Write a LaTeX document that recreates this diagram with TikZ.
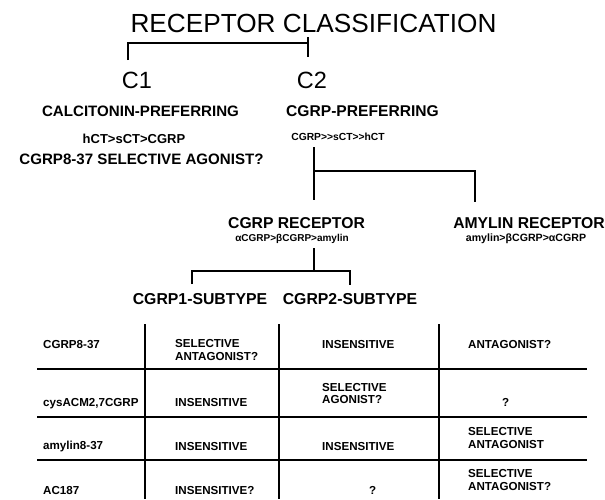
\documentclass[tikz,border=0pt]{standalone}
\usepackage{fontspec}
\setmainfont{Liberation Sans}
\newcommand\fsz[1]{\fontsize{#1}{#1}\selectfont}
\begin{document}
\begin{tikzpicture}[x=1pt,y=-1pt,
  t/.style={inner sep=0pt, anchor=base},
  big/.style={t, font=\fsz{#1}},
  bold/.style={t, font=\bfseries\fsz{#1}},
  cl/.style={inner sep=0pt, anchor=base west, font=\bfseries\fsz{11.6}},
  br/.style={line width=2.2pt},
  gridline/.style={line width=2.5pt}]
\useasboundingbox (0,0) rectangle (605,499);

% headings
\node[big=26.2] (title) at (313.5,32) {RECEPTOR CLASSIFICATION};
\node[big=23.5] (c1) at (137,88) {C1};
\node[big=23.5] (c2) at (312,88) {C2};
\node[bold=15.1] (calc) at (140.5,116) {CALCITONIN-PREFERRING};
\node[bold=15.6] (cgrpp) at (362.5,116) {CGRP-PREFERRING};
\node[bold=13] (hct) at (134,143) {hCT>sCT>CGRP};
\node[bold=15.1] (sel) at (141.5,164.5) {CGRP8-37 SELECTIVE AGONIST?};
\node[bold=10.3] (cgrpord) at (338,140) {CGRP>{}>sCT>{}>hCT};
\node[bold=15.7] (cgrprec) at (296.5,228) {CGRP RECEPTOR};
\node[bold=10] (cgrprecord) at (292,241) {αCGRP>βCGRP>amylin};
\node[bold=15.7] (amyrec) at (529,228) {AMYLIN RECEPTOR};
\node[bold=10.6] (amyrecord) at (526,241) {amylin>βCGRP>αCGRP};
\node[bold=15.8] (sub1) at (200,304) {CGRP1-SUBTYPE};
\node[bold=15.8] (sub2) at (350,304) {CGRP2-SUBTYPE};

% brackets
\coordinate (a1) at (128,60);
\coordinate (a2) at (128,43);
\coordinate (a3) at (308,43);
\coordinate (a4) at (308,37);
\coordinate (a5) at (308,57);
\draw[br] (a1) -- (a2) -- (a3);
\draw[br] (a4) -- (a5);

\coordinate (b1) at (314,147);
\coordinate (b2) at (314,200);
\coordinate (b3) at (314,171);
\coordinate (b4) at (475,171);
\coordinate (b5) at (475,202);
\draw[br] (b1) -- (b2);
\draw[br] (b3) -- (b4) -- (b5);

\coordinate (d1) at (314,248);
\coordinate (d2) at (314,271);
\coordinate (d3) at (192,284);
\coordinate (d4) at (192,271);
\coordinate (d5) at (350,271);
\coordinate (d6) at (350,285);
\draw[br] (d1) -- (d2);
\draw[br] (d3) -- (d4) -- (d5) -- (d6);

% table grid
\foreach \yy in {369,417,460} \draw[gridline] (37,\yy) -- (587,\yy);
\foreach \xx in {145,279,439} \draw[gridline] (\xx,324) -- (\xx,499);

% row 1
\node[cl] (r1a) at (43,348) {CGRP8-37};
\node[cl] (r1b1) at (175,347.5) {SELECTIVE};
\node[cl] (r1b2) at (175,360.5) {ANTAGONIST?};
\node[cl] (r1c) at (322,348) {INSENSITIVE};
\node[cl] (r1d) at (468,348) {ANTAGONIST?};
% row 2
\node[cl] (r2a) at (43,406) {cysACM2,7CGRP};
\node[cl] (r2b) at (175,406) {INSENSITIVE};
\node[cl] (r2c1) at (322,391) {SELECTIVE};
\node[cl] (r2c2) at (322,403.5) {AGONIST?};
\node[cl] (r2d) at (502,406) {?};
% row 3
\node[cl] (r3a) at (43,449) {amylin8-37};
\node[cl] (r3b) at (175,450) {INSENSITIVE};
\node[cl] (r3c) at (322,450) {INSENSITIVE};
\node[cl] (r3d1) at (468,435) {SELECTIVE};
\node[cl] (r3d2) at (468,448) {ANTAGONIST};
% row 4
\node[cl] (r4a) at (43,494) {AC187};
\node[cl] (r4b) at (175,494) {INSENSITIVE?};
\node[cl] (r4c) at (369,494) {?};
\node[cl] (r4d1) at (468,477) {SELECTIVE};
\node[cl] (r4d2) at (468,490) {ANTAGONIST?};
\end{tikzpicture}
\end{document}
